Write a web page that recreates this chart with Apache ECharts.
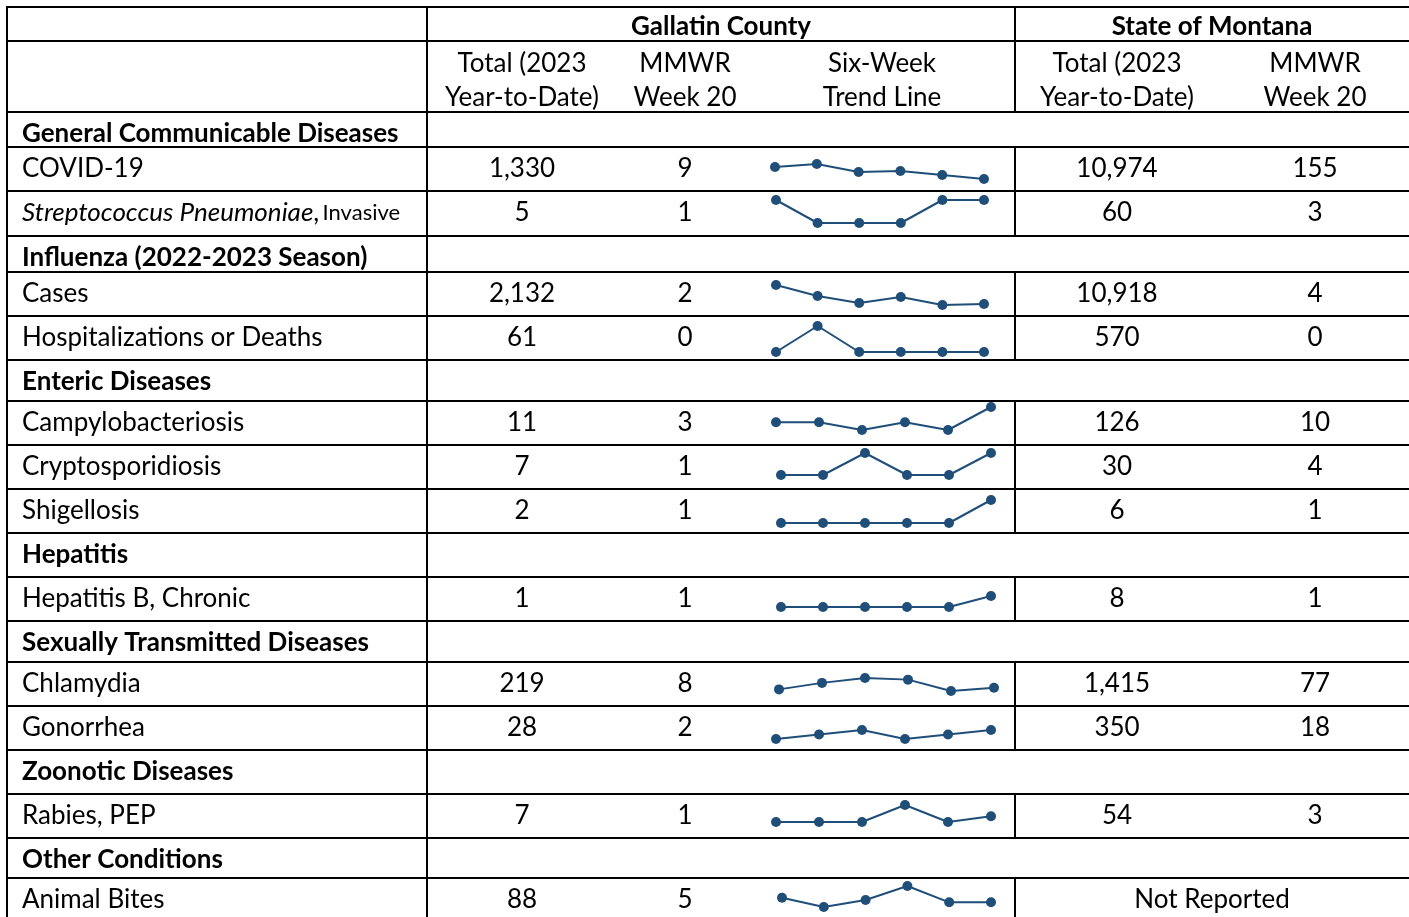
<!DOCTYPE html>
<html><head><meta charset="utf-8">
<script src="https://cdn.jsdelivr.net/npm/echarts@6/dist/echarts.min.js"></script>
<style>html,body{margin:0;padding:0;background:#fff}#c{width:1409px;height:917px}</style>
</head><body><div id="c"></div>
<script>
// ---------------- DATA ----------------
const sections = ['General Communicable Diseases', 'Influenza (2022-2023 Season)', 'Enteric Diseases', 'Hepatitis', 'Sexually Transmitted Diseases', 'Zoonotic Diseases', 'Other Conditions'];
const sectionSizes = [2, 2, 3, 1, 2, 1, 1];
const diseases = ['COVID-19', 'Streptococcus Pneumoniae, Invasive', 'Cases', 'Hospitalizations or Deaths', 'Campylobacteriosis', 'Cryptosporidiosis', 'Shigellosis', 'Hepatitis B, Chronic', 'Chlamydia', 'Gonorrhea', 'Rabies, PEP', 'Animal Bites'];
const gallatinTotal = ['1,330', '5', '2,132', '61', '11', '7', '2', '1', '219', '28', '7', '88'];
const gallatinWeek20 = ['9', '1', '2', '0', '3', '1', '1', '1', '8', '2', '1', '5'];
const stateTotal = ['10,974', '60', '10,918', '570', '126', '30', '6', '8', '1,415', '350', '54', null];
const stateWeek20 = ['155', '3', '4', '0', '10', '4', '1', '1', '77', '18', '3', null];
const notReported = 'Not Reported';
const weeks = ['Week 15', 'Week 16', 'Week 17', 'Week 18', 'Week 19', 'Week 20'];
const trendCovid = [21, 24, 16, 17, 13, 9];
const trendStrep = [1, 0, 0, 0, 1, 1];
const trendFluCases = [21, 10, 3, 9, 1, 2];
const trendFluHosp = [0, 1, 0, 0, 0, 0];
const trendCampy = [1, 1, 0, 1, 0, 3];
const trendCrypto = [0, 0, 1, 0, 0, 1];
const trendShig = [0, 0, 0, 0, 0, 1];
const trendHepB = [0, 0, 0, 0, 0, 1];
const trendChlam = [7, 11, 14, 13, 6, 8];
const trendGono = [0, 1, 2, 0, 1, 2];
const trendRabies = [0, 0, 0, 3, 0, 1];
const trendBites = [7, 3, 6, 12, 5, 5];
const trends = [trendCovid, trendStrep, trendFluCases, trendFluHosp, trendCampy, trendCrypto, trendShig, trendHepB, trendChlam, trendGono, trendRabies, trendBites];
const headGallatin = 'Gallatin County';
const headState = 'State of Montana';
const subHeads = [['Total (2023', 'Year-to-Date)'], ['MMWR', 'Week 20'], ['Six-Week', 'Trend Line'], ['Total (2023', 'Year-to-Date)'], ['MMWR', 'Week 20']];

// ---------------- LAYOUT ----------------
const FONT = 'Lato, "Open Sans", sans-serif';
const FS = 26;
const INK = '#000';
const LINE_BLUE = '#1f4e79';
const X_LEFT = 7, X_MID = 427, X_STATE = 1015, X_RIGHT = 1412;
const Y_TOP = 7, Y_HEAD1 = 41, Y_HEAD2 = 112;
const rowEdges = [112, 147, 191, 236, 272, 316, 360, 401, 445, 489, 533, 577, 621, 662, 706, 750, 794, 838, 878, 922];
const TEXT_OFFSET = 22;
const colCenters = [522, 685, 882, 1117, 1315];
const LABEL_X = 22;
// sparkline boxes: [xFirst, xLast, yOfMax, yOfMin]
const sparkBoxes = [
  [775, 984, 164, 179], [776, 984, 200, 223], [776, 984, 285, 305], [776, 984, 326, 352],
  [776, 991, 407, 430], [781, 991, 453, 475], [781, 991, 500, 523], [781, 991, 596, 607],
  [779, 994, 678, 691], [776, 991, 730, 739], [776, 991, 805, 822], [782, 991, 886, 907]
];

// ---------------- BUILD ----------------
const g = [];
function hline(x1, x2, y) { g.push({ type: 'line', silent: true, shape: { x1: x1, y1: y, x2: x2, y2: y }, style: { stroke: INK, lineWidth: 2 } }); }
function vline(x, y1, y2) { g.push({ type: 'line', silent: true, shape: { x1: x, y1: y1, x2: x, y2: y2 }, style: { stroke: INK, lineWidth: 2 } }); }
function txt(s, x, y, align, bold, extra) {
  const st = Object.assign({ text: s, x: x, y: y, align: align || 'center', verticalAlign: 'middle', fill: INK,
    font: (bold ? 'bold ' : '') + FS + 'px ' + FONT }, extra || {});
  g.push({ type: 'text', silent: true, style: st });
}

// header
hline(X_LEFT - 1, X_RIGHT, Y_TOP);
hline(X_LEFT - 1, X_RIGHT, Y_HEAD1);
hline(X_LEFT - 1, X_RIGHT, Y_HEAD2);
vline(X_LEFT, Y_TOP, 922);
vline(X_MID, Y_TOP, 922);
vline(X_STATE, Y_TOP, Y_HEAD2);
txt(headGallatin, (X_MID + X_STATE) / 2, 27, 'center', true);
txt(headState, (X_STATE + 1409) / 2, 27, 'center', true);
subHeads.forEach((h, i) => { txt(h[0], colCenters[i], 64, 'center'); txt(h[1], colCenters[i], 98, 'center'); });

// body
let r = 0, d = 0;
const grids = [], xAxes = [], yAxes = [], series = [];
sections.forEach((sec, si) => {
  const top = rowEdges[r], bot = rowEdges[r + 1];
  hline(X_LEFT - 1, X_RIGHT, bot);
  txt(sec, LABEL_X, top + TEXT_OFFSET, 'left', true);
  r++;
  for (let k = 0; k < sectionSizes[si]; k++, d++, r++) {
    const t = rowEdges[r], b = rowEdges[r + 1];
    const cy = t + TEXT_OFFSET;
    hline(X_LEFT - 1, X_RIGHT, b);
    vline(X_STATE, t, b);
    if (d === 1) {
      g.push({ type: 'text', silent: true, style: { x: LABEL_X, y: cy, align: 'left', verticalAlign: 'middle', fill: INK,
        text: '{i|Streptococcus Pneumoniae}{n|,} {s|Invasive}',
        rich: { i: { font: 'italic ' + FS + 'px ' + FONT, fill: INK }, n: { font: FS + 'px ' + FONT, fill: INK }, s: { font: '22px ' + FONT, fill: INK } } } });
    } else {
      txt(diseases[d], LABEL_X, cy, 'left');
    }
    txt(gallatinTotal[d], colCenters[0], cy);
    txt(gallatinWeek20[d], colCenters[1], cy);
    if (stateTotal[d] === null) {
      txt(notReported, (X_STATE + 1409) / 2, cy);
    } else {
      txt(stateTotal[d], colCenters[3], cy);
      txt(stateWeek20[d], colCenters[4], cy);
    }
    const bx = sparkBoxes[d];
    grids.push({ left: bx[0], top: bx[2], width: bx[1] - bx[0], height: bx[3] - bx[2], show: false, containLabel: false });
    xAxes.push({ type: 'category', gridIndex: d, data: weeks, boundaryGap: false, show: false });
    yAxes.push({ type: 'value', gridIndex: d, min: 'dataMin', max: 'dataMax', show: false, scale: true });
    series.push({ type: 'line', xAxisIndex: d, yAxisIndex: d, data: trends[d], symbol: 'circle', symbolSize: 10, clip: false,
      lineStyle: { color: LINE_BLUE, width: 2 }, itemStyle: { color: LINE_BLUE }, silent: true, z: 5 });
  }
});

const chart = echarts.init(document.getElementById('c'), null, { renderer: 'canvas' });
chart.setOption({
  animation: false,
  backgroundColor: '#fff',
  grid: grids, xAxis: xAxes, yAxis: yAxes, series: series,
  graphic: { elements: g }
});
</script></body></html>
